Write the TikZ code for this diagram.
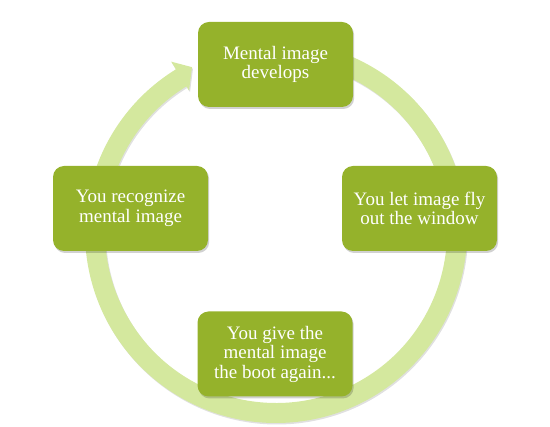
\documentclass[tikz,border=0pt]{standalone}
\usepackage{fontspec}
\setmainfont{Liberation Serif}
\usetikzlibrary{shadows}
\definecolor{boxgreen}{HTML}{95B22B}
\definecolor{bandgreen}{HTML}{D4E89E}
\begin{document}
\begin{tikzpicture}[x=1pt,y=-1pt,
  stagebox/.style={fill=boxgreen, rounded corners=11pt, minimum width=155pt, minimum height=85pt,
    text=white, align=center, font=\fontsize{19}{19.5}\selectfont, inner sep=0pt,
    drop shadow={shadow xshift=1.2pt, shadow yshift=-2pt, opacity=0.18, fill=black}},
  bandstyle/.style={fill=bandgreen,
    drop shadow={shadow xshift=1pt, shadow yshift=-1.5pt, opacity=0.12, fill=black}}
]
\useasboundingbox (0,0) rectangle (550,427);
\begin{scope}[shift={(276,232)}]
  \path[bandstyle] (-95:191) arc[start angle=-95, end angle=238.4, radius=191]
    -- (238.4:200) -- (243:185) -- (238.4:166) -- (238.4:171)
    arc[start angle=238.4, end angle=-95, radius=171] -- cycle;
\end{scope}
\node[stagebox] (top) at (275.5,64.5) {Mental image\\develops};
\node[stagebox] (right) at (419.5,208.5) {You let image fly\\out the window};
\node[stagebox] (bottom) at (275,354) {You give the\\mental image\\the boot again...};
\node[stagebox] (left) at (130.5,208.5) {You recognize\\mental image};
\end{tikzpicture}
\end{document}
